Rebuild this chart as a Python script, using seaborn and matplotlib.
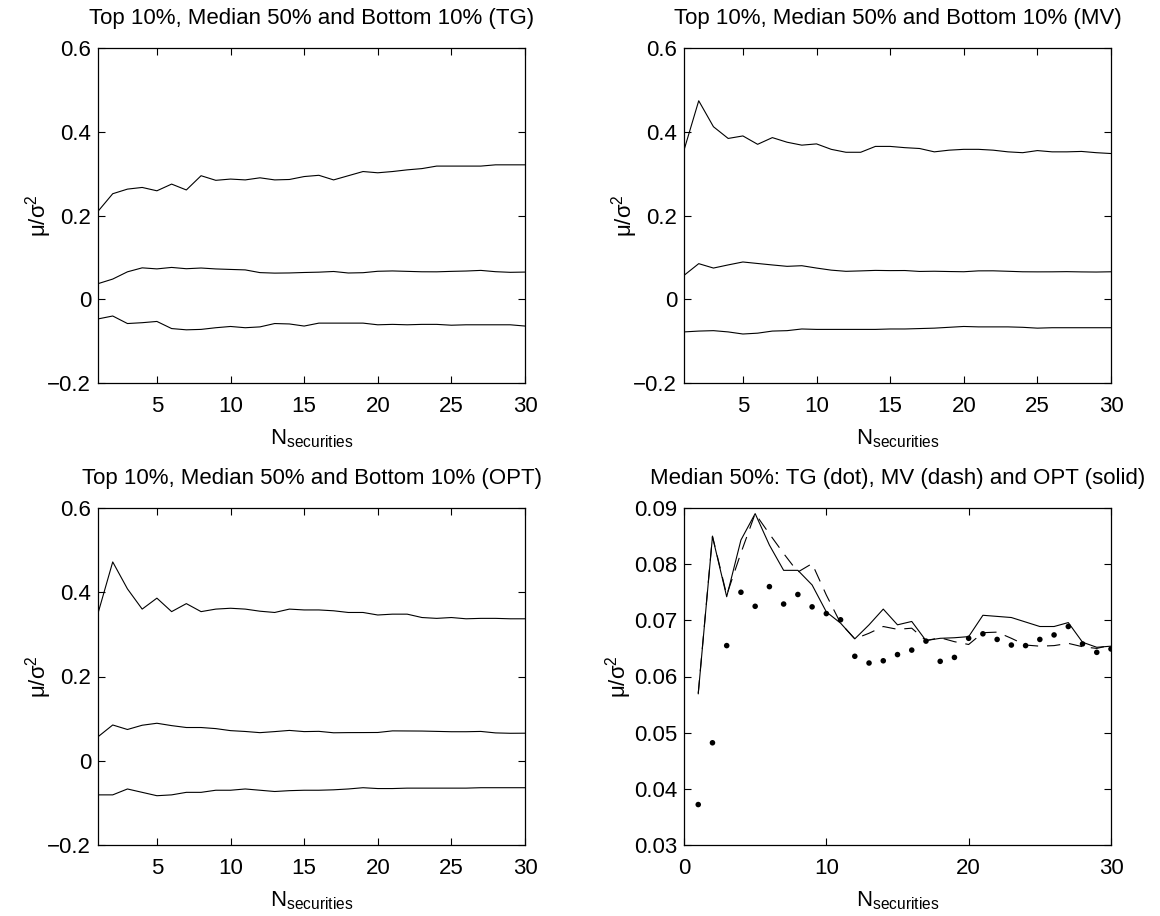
import numpy as np
import pandas as pd
import matplotlib
matplotlib.use("Agg")
import matplotlib.pyplot as plt
import seaborn as sns

# ---------------- data ----------------
n_sec = list(range(1, 31))

tg_top = [0.210, 0.252, 0.263, 0.267, 0.259, 0.275, 0.261, 0.295, 0.284, 0.287,
          0.285, 0.290, 0.285, 0.286, 0.293, 0.296, 0.285, 0.295, 0.305, 0.302,
          0.305, 0.309, 0.312, 0.318, 0.318, 0.318, 0.318, 0.321, 0.321, 0.321]
tg_med = [0.0372, 0.0482, 0.0655, 0.0750, 0.0725, 0.0760, 0.0729, 0.0746, 0.0724, 0.0712,
          0.0701, 0.0636, 0.0624, 0.0628, 0.0639, 0.0647, 0.0663, 0.0627, 0.0634, 0.0668,
          0.0676, 0.0666, 0.0656, 0.0655, 0.0666, 0.0674, 0.0689, 0.0658, 0.0643, 0.0649]
tg_bot = [-0.047, -0.040, -0.058, -0.056, -0.053, -0.070, -0.073, -0.072, -0.068, -0.065,
          -0.068, -0.066, -0.058, -0.059, -0.064, -0.057, -0.057, -0.057, -0.057, -0.061,
          -0.060, -0.061, -0.060, -0.060, -0.062, -0.061, -0.061, -0.061, -0.061, -0.064]

mv_top = [0.356, 0.474, 0.412, 0.384, 0.390, 0.370, 0.386, 0.375, 0.368, 0.371,
          0.358, 0.351, 0.351, 0.365, 0.365, 0.362, 0.360, 0.352, 0.356, 0.358,
          0.358, 0.356, 0.352, 0.350, 0.355, 0.352, 0.352, 0.353, 0.350, 0.348]
mv_med = [0.0570, 0.0850, 0.0745, 0.0820, 0.0890, 0.0854, 0.0819, 0.0786, 0.0801, 0.0745,
          0.0695, 0.0667, 0.0677, 0.0689, 0.0684, 0.0686, 0.0664, 0.0669, 0.0662, 0.0657,
          0.0678, 0.0679, 0.0668, 0.0656, 0.0654, 0.0655, 0.0659, 0.0653, 0.0650, 0.0656]
mv_bot = [-0.078, -0.076, -0.075, -0.078, -0.083, -0.081, -0.076, -0.075, -0.071, -0.072,
          -0.072, -0.072, -0.072, -0.072, -0.071, -0.071, -0.070, -0.069, -0.067, -0.065,
          -0.066, -0.066, -0.066, -0.067, -0.069, -0.068, -0.068, -0.068, -0.068, -0.068]

opt_top = [0.350, 0.472, 0.408, 0.360, 0.386, 0.354, 0.373, 0.354, 0.360, 0.362,
           0.360, 0.355, 0.352, 0.360, 0.358, 0.358, 0.356, 0.352, 0.352, 0.346,
           0.348, 0.348, 0.340, 0.338, 0.340, 0.337, 0.338, 0.338, 0.337, 0.337]
opt_med = [0.0569, 0.0849, 0.0742, 0.0843, 0.0890, 0.0834, 0.0789, 0.0789, 0.0763, 0.0715,
           0.0695, 0.0667, 0.0692, 0.0720, 0.0692, 0.0698, 0.0664, 0.0668, 0.0669, 0.0671,
           0.0709, 0.0707, 0.0705, 0.0697, 0.0689, 0.0689, 0.0696, 0.0661, 0.0652, 0.0654]
opt_bot = [-0.081, -0.081, -0.067, -0.075, -0.083, -0.081, -0.075, -0.075, -0.070, -0.070,
           -0.067, -0.070, -0.073, -0.071, -0.070, -0.070, -0.069, -0.067, -0.064, -0.066,
           -0.066, -0.065, -0.065, -0.065, -0.065, -0.065, -0.064, -0.064, -0.064, -0.064]

titles = ["Top 10%, Median 50% and Bottom 10% (TG)",
          "Top 10%, Median 50% and Bottom 10% (MV)",
          "Top 10%, Median 50% and Bottom 10% (OPT)",
          "Median 50%: TG (dot), MV (dash) and OPT (solid)"]
xlabel_text = "N$_{securities}$"
ylabel_text = "μ/σ$^{2}$"

# ---------------- style ----------------
sns.set_theme(style="ticks")
plt.rcParams.update({
    "font.family": ["Liberation Sans", "DejaVu Sans"],
    "mathtext.default": "regular",
    "font.size": 16,
    "axes.titlesize": 16,
    "axes.labelsize": 16,
    "xtick.labelsize": 16,
    "ytick.labelsize": 16,
    "xtick.direction": "in",
    "ytick.direction": "in",
    "xtick.top": True,
    "ytick.right": True,
    "xtick.major.size": 5,
    "ytick.major.size": 5,
    "xtick.major.width": 0.8,
    "ytick.major.width": 0.8,
    "axes.linewidth": 0.9,
    "axes.edgecolor": "black",
    "text.color": "black",
    "xtick.color": "black",
    "ytick.color": "black",
    "axes.labelcolor": "black",
})

fig = plt.figure(figsize=(11.6, 9.16), dpi=100)
W, H = 1160, 916
def pos(x0, x1, y0, y1):
    return [x0 / W, 1 - y1 / H, (x1 - x0) / W, (y1 - y0) / H]

ax1 = fig.add_axes(pos(98, 525, 48, 383))
ax2 = fig.add_axes(pos(684, 1111, 48, 383))
ax3 = fig.add_axes(pos(98, 525, 508, 845))
ax4 = fig.add_axes(pos(684, 1111, 508, 845))

lw = 0.8
for ax, series, title in [(ax1, (tg_top, tg_med, tg_bot), titles[0]),
                          (ax2, (mv_top, mv_med, mv_bot), titles[1]),
                          (ax3, (opt_top, opt_med, opt_bot), titles[2])]:
    for s in series:
        sns.lineplot(x=n_sec, y=s, ax=ax, color="black", linewidth=lw)
    ax.set_xlim(1, 30)
    ax.set_ylim(-0.2, 0.6)
    ax.set_xticks([5, 10, 15, 20, 25, 30])
    ax.set_yticks([-0.2, 0, 0.2, 0.4, 0.6])
    ax.set_yticklabels(["\u22120.2", "0", "0.2", "0.4", "0.6"])
    ax.set_title(title, pad=17)

# bottom-right: medians compared
sns.lineplot(x=n_sec, y=opt_med, ax=ax4, color="black", linewidth=lw)
sns.lineplot(x=n_sec, y=mv_med, ax=ax4, color="black", linewidth=lw,
             linestyle=(0, (12, 8)))
sns.scatterplot(x=n_sec, y=tg_med, ax=ax4, color="black", s=16,
                edgecolor="none", marker="o")
ax4.set_xlim(0, 30)
ax4.set_ylim(0.03, 0.09)
ax4.set_xticks([0, 10, 20, 30])
ax4.set_yticks([0.03, 0.04, 0.05, 0.06, 0.07, 0.08, 0.09])
ax4.set_yticklabels(["0.03", "0.04", "0.05", "0.06", "0.07", "0.08", "0.09"])
ax4.set_title(titles[3], pad=17)

for ax in (ax1, ax2, ax3, ax4):
    ax.set_xlabel(xlabel_text, labelpad=8)
    ax.set_ylabel(ylabel_text)
    ax.yaxis.set_label_coords(-0.118 if ax is ax4 else -0.104, 0.5)
    for sp in ax.spines.values():
        sp.set_visible(True)
        sp.set_color("black")
    ax.tick_params(axis="x", which="both", top=True, pad=9)
    ax.tick_params(axis="y", which="both", right=True, pad=5)

fig.savefig("out.png", dpi=100, facecolor="white")
